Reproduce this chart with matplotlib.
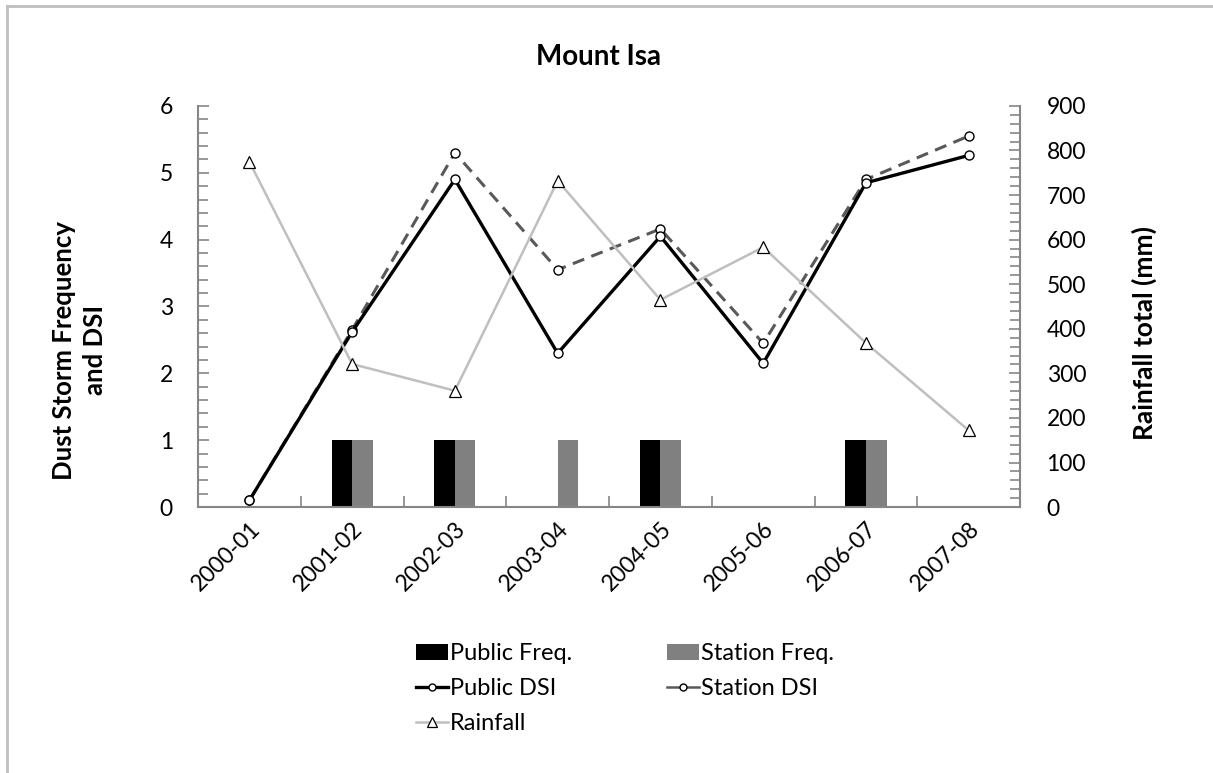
import matplotlib
matplotlib.use("Agg")
import matplotlib.pyplot as plt
import numpy as np
from matplotlib.lines import Line2D
from matplotlib.patches import Patch
from matplotlib.ticker import MultipleLocator, FixedLocator, NullFormatter

plt.rcParams['font.family'] = ['Lato', 'DejaVu Sans']

seasons = ["2000-01", "2001-02", "2002-03", "2003-04",
           "2004-05", "2005-06", "2006-07", "2007-08"]
public_freq = [0, 1, 1, 0, 1, 0, 1, 0]
station_freq = [0, 1, 1, 1, 1, 0, 1, 0]
public_dsi = [0.10, 2.62, 4.90, 2.30, 4.05, 2.15, 4.85, 5.26]
station_dsi = [0.10, 2.65, 5.30, 3.55, 4.16, 2.45, 4.90, 5.55]
rainfall = [775, 321, 261, 732, 465, 583, 368, 172]

spine_col = "#868686"
fs = 16.5

fig = plt.figure(figsize=(12.13, 7.73), dpi=100)
ax = fig.add_axes([0.1632, 0.344, 0.6778, 0.519])
ax2 = ax.twinx()

x = np.arange(len(seasons))
bw = 0.2
ax.bar(x - bw / 2, public_freq, width=bw, color="black", zorder=2)
ax.bar(x + bw / 2, station_freq, width=bw, color="#808080", zorder=2)

ax.plot(x, public_dsi, color="black", lw=2.4, marker="o", ms=6.5,
        mfc="white", mec="black", mew=1.0, zorder=4)
ax.plot(x, station_dsi, color="#595959", lw=2.2, ls=(0, (4, 2.5)), marker="o",
        ms=6.5, mfc="white", mec="black", mew=1.0, zorder=3)
ax2.plot(x, rainfall, color="#BFBFBF", lw=1.8, marker="^", ms=8.5,
         mfc="white", mec="black", mew=0.9, zorder=3)

ax.set_xlim(-0.5, len(seasons) - 0.5)
ax.set_ylim(0, 6)
ax2.set_ylim(0, 900)

ax.yaxis.set_major_locator(MultipleLocator(1))
ax.yaxis.set_minor_locator(MultipleLocator(0.2))
ax2.yaxis.set_major_locator(MultipleLocator(100))
ax2.yaxis.set_minor_locator(MultipleLocator(20))

ax.set_xticks(x)
ax.set_xticklabels(seasons, rotation=45, ha="right", va="top",
                   rotation_mode="anchor", fontsize=fs)
ax.xaxis.set_minor_locator(FixedLocator(np.arange(0.5, len(seasons) - 0.5, 1)))
ax.xaxis.set_minor_formatter(NullFormatter())
ax.tick_params(axis="x", which="major", length=0, pad=8)
ax.tick_params(axis="x", which="minor", direction="in", length=8,
               color=spine_col, width=1.2)

for a in (ax, ax2):
    for s in a.spines.values():
        s.set_visible(False)
ax.spines["left"].set_visible(True)
ax.spines["bottom"].set_visible(True)
ax2.spines["right"].set_visible(True)
for s in (ax.spines["left"], ax.spines["bottom"], ax2.spines["right"]):
    s.set_color(spine_col)
    s.set_linewidth(1.5)

ax.tick_params(axis="y", which="both", direction="in", color=spine_col,
               width=1.2, labelsize=fs, pad=18)
ax.tick_params(axis="y", which="major", length=8)
ax.tick_params(axis="y", which="minor", length=7)
ax2.tick_params(axis="y", which="both", direction="in", color=spine_col,
                width=1.2, labelsize=fs, pad=19)
ax2.tick_params(axis="y", which="major", length=8)
ax2.tick_params(axis="y", which="minor", length=7)

fig.text(0.4935, 0.926, "Mount Isa", ha="center", va="center",
         fontsize=20, fontweight="bold")
fig.text(0.0655, 0.547, "Dust Storm Frequency\nand DSI", ha="center",
         va="center", rotation=90, fontsize=18.5, fontweight="bold",
         linespacing=1.35)
fig.text(0.943, 0.569, "Rainfall total (mm)", ha="center", va="center",
         rotation=90, fontsize=19, fontweight="bold")

handles = [
    Patch(facecolor="black", edgecolor="none"),
    Line2D([], [], color="black", lw=2.4, marker="o", ms=5, mfc="white",
           mec="black", mew=1.0),
    Line2D([], [], color="#BFBFBF", lw=1.8, marker="^", ms=6.5, mfc="white",
           mec="black", mew=0.9),
    Patch(facecolor="#808080", edgecolor="none"),
    Line2D([], [], color="#595959", lw=1.8, marker="o", ms=5, mfc="white",
           mec="black", mew=1.0),
]
labels = ["Public Freq.", "Public DSI", "Rainfall", "Station Freq.", "Station DSI"]
fig.legend(handles, labels, ncol=2, loc="center left",
           bbox_to_anchor=(0.333, 0.109), frameon=False, fontsize=17,
           handlelength=1.35, handletextpad=0.1, columnspacing=4.0,
           labelspacing=0.6, borderpad=0)

# outer chart frame
fig.add_artist(Line2D([0.0055, 1.0], [0.9925, 0.9925], color="#BFBFBF",
                      lw=2, transform=fig.transFigure))
fig.add_artist(Line2D([0.0055, 0.0055], [0.0, 0.9925], color="#BFBFBF",
                      lw=2, transform=fig.transFigure))

fig.savefig("out.png", dpi=100)
